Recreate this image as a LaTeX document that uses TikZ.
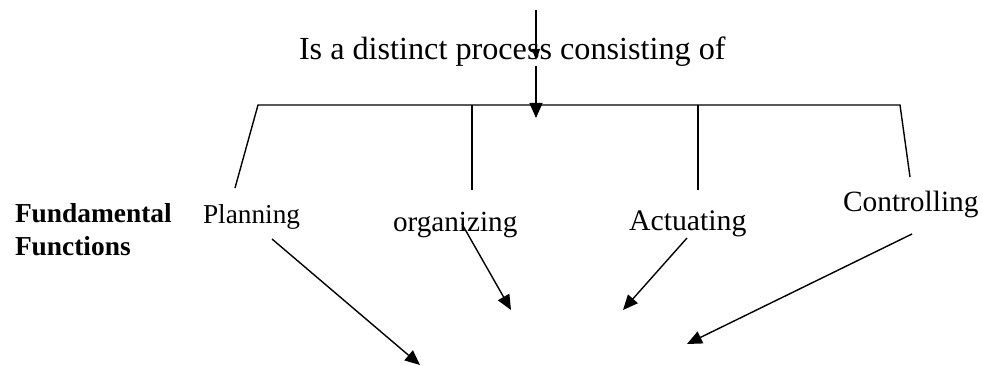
\documentclass[tikz,border=0pt]{standalone}
\usepackage{fontspec}
\setmainfont{Liberation Serif}
\usetikzlibrary{arrows.meta}
\tikzset{
  lbl/.style={anchor=base west, inner sep=0pt, outer sep=0pt},
  conn/.style={line width=1.4pt, line cap=butt},
  arr/.style={conn, -{Triangle[length=15pt,width=13pt]}},
  smallarr/.style={conn, -{Triangle[length=11pt,width=8pt]}}
}
\begin{document}
\begin{tikzpicture}[x=1pt,y=-1pt]
\useasboundingbox (0,0) rectangle (983,366);
% labels
\node[lbl, font=\fontsize{32.2}{38}\selectfont] (title) at (299,60) {Is a distinct process consisting of};
\node[lbl, font=\fontsize{27.4}{32}\selectfont\bfseries] (fund) at (15,223) {Fundamental};
\node[lbl, font=\fontsize{27.4}{32}\selectfont\bfseries] (func) at (15,255) {Functions};
\node[lbl, font=\fontsize{27.3}{32}\selectfont] (plan) at (203,224) {Planning};
\node[lbl, font=\fontsize{29.2}{34}\selectfont] (org) at (393,232) {organizing};
\node[lbl, font=\fontsize{29.8}{35}\selectfont] (act) at (629,231) {Actuating};
\node[lbl, font=\fontsize{29.4}{35}\selectfont] (ctrl) at (843,212) {Controlling};
% coordinates
\coordinate (top) at (536,10);
\coordinate (tin) at (536,60);
\coordinate (tout) at (536,66);
\coordinate (tbar) at (536,118);
\coordinate (bl) at (258,105);
\coordinate (br) at (900,105);
\coordinate (b1) at (472,105);
\coordinate (b2) at (698,105);
\coordinate (pl) at (235,188);
\coordinate (o1) at (472,190);
\coordinate (a1) at (698,190);
\coordinate (c1) at (910,177);
\coordinate (ps) at (272,239);
\coordinate (pt) at (420,365);
\coordinate (os) at (462,224);
\coordinate (ot) at (511,310);
\coordinate (as) at (687,238);
\coordinate (at2) at (623,310);
\coordinate (cs) at (912,234);
\coordinate (ct) at (687,344);
% tree
\draw[smallarr] (top) -- (tin);
\draw[arr] (tout) -- (tbar);
\draw[conn] (pl) -- (bl) -- (br) -- (c1);
\draw[conn] (b1) -- (o1);
\draw[conn] (b2) -- (a1);
% arrows
\draw[arr] (ps) -- (pt);
\draw[arr] (os) -- (ot);
\draw[arr] (as) -- (at2);
\draw[arr] (cs) -- (ct);
\end{tikzpicture}
\end{document}
